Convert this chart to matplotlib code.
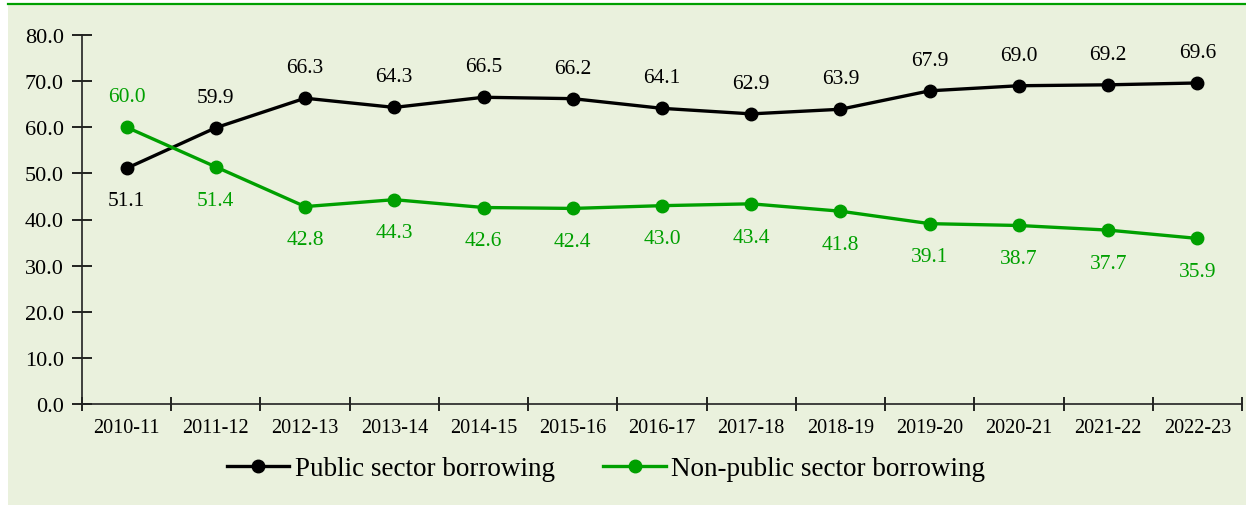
import matplotlib
matplotlib.use("Agg")
import matplotlib.pyplot as plt
from matplotlib.patches import Rectangle
from matplotlib.lines import Line2D

years = ["2010-11", "2011-12", "2012-13", "2013-14", "2014-15", "2015-16", "2016-17",
         "2017-18", "2018-19", "2019-20", "2020-21", "2021-22", "2022-23"]
public = [51.1, 59.9, 66.3, 64.3, 66.5, 66.2, 64.1, 62.9, 63.9, 67.9, 69.0, 69.2, 69.6]
non_public = [60.0, 51.4, 42.8, 44.3, 42.6, 42.4, 43.0, 43.4, 41.8, 39.1, 38.7, 37.7, 35.9]

BG = "#EAF1DD"
GREEN = "#00A000"
plt.rcParams['font.family'] = ['Liberation Serif', 'DejaVu Serif']

fig = plt.figure(figsize=(12.46, 5.06), dpi=100)
# panel background and top green rule
fig.patches.append(Rectangle((8/1246, 0), 1 - 8/1246, 1 - 5/506, transform=fig.transFigure,
                             facecolor=BG, edgecolor='none', zorder=-10))
fig.lines.append(Line2D([8/1246, 1], [1 - 5/506, 1 - 5/506], transform=fig.transFigure,
                        color=GREEN, lw=1.6))

ax = fig.add_axes([82/1246, 1 - 405/506, 1160/1246, 369/506])
ax.set_facecolor('none')

x = list(range(len(years)))
ax.plot(x, public, color='black', lw=2.4, marker='o', markersize=9, label='Public sector borrowing',
        clip_on=False, zorder=3)
ax.plot(x, non_public, color=GREEN, lw=2.4, marker='o', markersize=9,
        label='Non-public sector borrowing', clip_on=False, zorder=3)

for i in x:
    up_black = i != 0
    ax.annotate(f"{public[i]:.1f}", (i, public[i]), xytext=(0, 22 if up_black else -23),
                textcoords='offset points', ha='center', va='center', fontsize=15.5, color='black')
    up_green = i == 0
    ax.annotate(f"{non_public[i]:.1f}", (i, non_public[i]), xytext=(0, 22 if up_green else -24),
                textcoords='offset points', ha='center', va='center', fontsize=15.5, color=GREEN)

ax.set_xlim(-0.5, len(years) - 0.5)
ax.set_ylim(0, 80)
ax.set_yticks(range(0, 81, 10))
ax.set_yticklabels([f"{v:.1f}" for v in range(0, 81, 10)], fontsize=16)
ax.set_xticks([i - 0.5 for i in range(len(years) + 1)])
ax.set_xticklabels([])
ax.set_xticks(x, minor=True)
ax.set_xticklabels(years, minor=True, fontsize=14.5)
ax.tick_params(axis='x', which='minor', length=0, pad=10)
ax.tick_params(axis='x', which='major', direction='inout', length=10, width=1.2)
ax.tick_params(axis='y', direction='inout', length=14, width=1.2, pad=6)

for s in ['top', 'right']:
    ax.spines[s].set_visible(False)
for s in ['left', 'bottom']:
    ax.spines[s].set_linewidth(1.2)
    ax.spines[s].set_color('#222222')

leg = ax.legend(loc='center', bbox_to_anchor=(606/1246, 1 - 470/506), bbox_transform=fig.transFigure,
                ncol=2, frameon=False, fontsize=19.5, handlelength=2.3, handletextpad=0.2,
                columnspacing=1.8)

fig.savefig("out.png", dpi=100)
